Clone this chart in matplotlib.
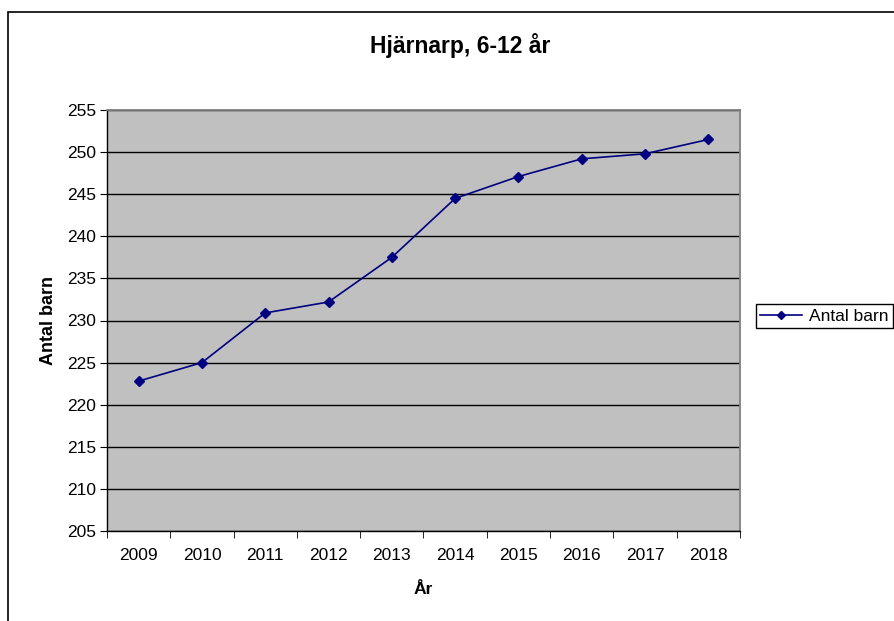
import numpy as np
import matplotlib.pyplot as plt
from matplotlib.patches import Rectangle

# Hjärnarp, antal barn 6-12 år per år
years = ["2009", "2010", "2011", "2012", "2013", "2014", "2015", "2016", "2017", "2018"]
antal_barn = [222.8, 225.0, 230.9, 232.2, 237.5, 244.5, 247.1, 249.2, 249.8, 251.5]
yticks = [205, 210, 215, 220, 225, 230, 235, 240, 245, 250, 255]

plt.rcParams["font.family"] = ["Liberation Sans", "DejaVu Sans"]

fig = plt.figure(figsize=(8.95, 6.21), dpi=100)
# ram runt diagrammet (fortsätter utanför bilden)
fig.patches.append(Rectangle((8 / 895, -0.1), 1.2, 1.1 - 12 / 621, transform=fig.transFigure,
                             fill=False, edgecolor="black", linewidth=1.2))

ax = fig.add_axes([107 / 895, 1 - 531 / 621, 633 / 895, 421 / 621])
ax.set_facecolor("#C0C0C0")

x = np.arange(len(years))
ax.plot(x, antal_barn, color="#000080", linewidth=1.2, marker="D", markersize=5.5,
        label="Antal barn")

ax.set_xlim(-0.5, len(years) - 0.5)
ax.set_ylim(205, 255)
ax.set_yticks(yticks)
ax.set_yticklabels([str(v) for v in yticks], fontsize=12.5)
ax.set_xticks(x)
ax.set_xticklabels(years, fontsize=12.5)
ax.set_xticks(np.arange(-0.5, len(years)), minor=True)
ax.tick_params(axis="x", which="major", length=0, pad=12)
ax.tick_params(axis="x", which="minor", length=5, direction="out", color="black")
ax.tick_params(axis="y", length=5, direction="out", color="black", pad=3)

ax.grid(axis="y", color="black", linewidth=1.0)
ax.set_axisbelow(True)
for side in ["top", "right"]:
    ax.spines[side].set_color("#808080")
    ax.spines[side].set_linewidth(1.3)
for side in ["left", "bottom"]:
    ax.spines[side].set_color("black")
    ax.spines[side].set_linewidth(1.0)

fig.text(460 / 895, 1 - 45 / 621, "Hjärnarp, 6-12 år", fontsize=16.5, fontweight="bold",
         ha="center", va="center")
ax.set_xlabel("År", fontsize=12.5, fontweight="bold", labelpad=14)
ax.set_ylabel("Antal barn", fontsize=13, fontweight="bold", labelpad=7)

fig.legend(loc="center left", bbox_to_anchor=(756 / 895, 1 - 316 / 621), fontsize=12.5,
           frameon=True, fancybox=False, edgecolor="black", framealpha=1, borderaxespad=0,
           handlelength=2.4, handletextpad=0.4, borderpad=0.25, markerscale=0.8)

fig.savefig("out.png", dpi=100)
